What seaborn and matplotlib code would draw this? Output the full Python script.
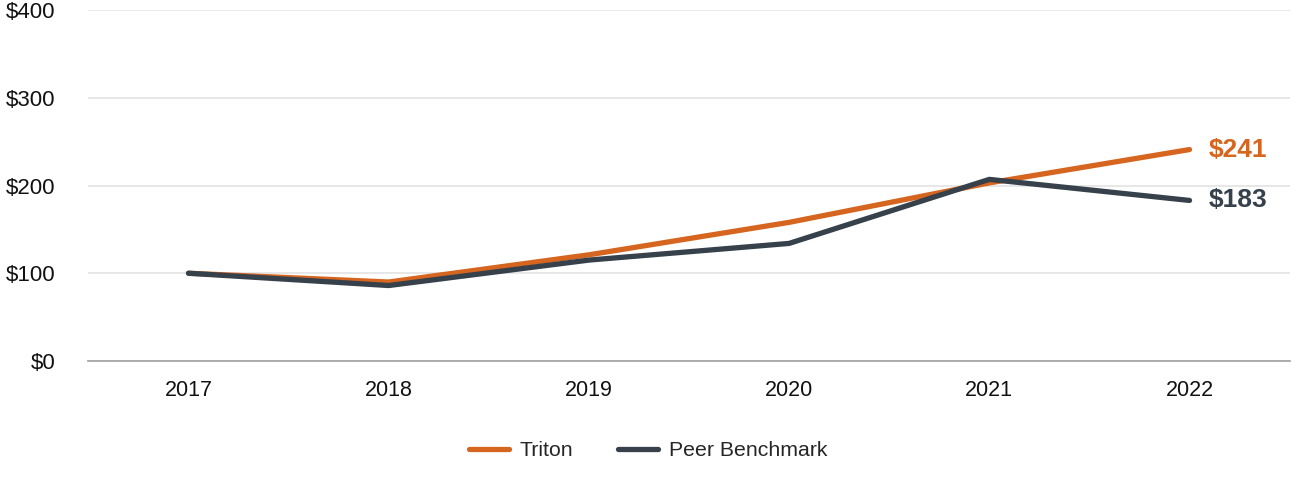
import pandas as pd
import matplotlib.pyplot as plt
import seaborn as sns

# Data
years = ['2017', '2018', '2019', '2020', '2021', '2022']
triton = [100, 90, 121, 158, 203, 241]
peer = [100, 86, 115, 134, 207, 183]
series_names = ['Triton', 'Peer Benchmark']
colors = ['#D5651F', '#36414B']
end_labels = ['$241', '$183']

df = pd.DataFrame({
    'year': years * 2,
    'value': triton + peer,
    'series': [series_names[0]] * len(years) + [series_names[1]] * len(years),
})

sns.set_theme(style='white')
plt.rcParams['font.family'] = ['Liberation Sans', 'DejaVu Sans']

fig, ax = plt.subplots(figsize=(13, 4.8), dpi=100)
fig.subplots_adjust(left=0.068, right=0.992, top=0.979, bottom=0.248)

sns.lineplot(data=df, x='year', y='value', hue='series', palette=colors,
             linewidth=3.8, ax=ax, sort=False)

# Value labels at the end of each line
for vals, lab, c in zip([triton, peer], end_labels, colors):
    ax.annotate(lab, xy=(len(years) - 1, vals[-1]), xytext=(14, 0),
                textcoords='offset points', color=c, fontsize=19,
                fontweight='bold', va='center', ha='left')

ax.set_ylim(0, 400)
ax.set_xlim(-0.5, 5.5)
ax.set_yticks([0, 100, 200, 300, 400])
ax.set_yticklabels(['$0', '$100', '$200', '$300', '$400'])
ax.yaxis.grid(True, color='#E3E3E3', linewidth=1.2)
ax.set_axisbelow(True)
for s in ['top', 'right', 'left']:
    ax.spines[s].set_visible(False)
ax.spines['bottom'].set_color('#A0A0A0')
ax.spines['bottom'].set_linewidth(1.2)
ax.tick_params(axis='y', length=0, labelsize=16, pad=24, colors='#111111')
ax.tick_params(axis='x', length=0, labelsize=15.5, pad=14, colors='#111111')
ax.set_xlabel('')
ax.set_ylabel('')

ax.legend(loc='upper center', bbox_to_anchor=(0.466, -0.175), ncol=2,
          frameon=False, fontsize=15.3, handlelength=1.9, columnspacing=2.1,
          handletextpad=0.5)

plt.savefig('out.png', dpi=100)
